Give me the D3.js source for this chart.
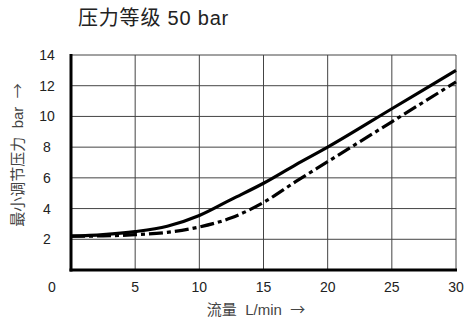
<!DOCTYPE html>
<html>
<head>
<meta charset="utf-8">
<script src="https://cdn.jsdelivr.net/npm/d3@7"></script>
<style>
  html, body { margin: 0; padding: 0; background: #fff; }
  svg text { font-family: "Liberation Sans", "Noto Sans CJK SC", sans-serif; white-space: pre; }
  .arrow { font-family: "Noto Sans CJK SC", sans-serif; }
</style>
</head>
<body>
<svg id="chart" width="467" height="327"></svg>
<script>
// Flow (L/min) vs. minimum set pressure (bar), pressure class 50 bar
const flow = [0, 2.5, 5, 7.5, 10, 12.5, 15, 17.5, 20, 25, 30];
const solidPressure = [2.2, 2.3, 2.5, 2.85, 3.55, 4.6, 5.65, 6.85, 8.0, 10.5, 13.0];
const dashPressure  = [2.2, 2.22, 2.3, 2.45, 2.8, 3.4, 4.4, 5.75, 7.05, 9.65, 12.25];
const xTicks = [5, 10, 15, 20, 25, 30];
const yTicks = [2, 4, 6, 8, 10, 12, 14];
const titleText = "压力等级 50 bar";
const xTitle = "流量  L/min  ";
const yTitle = "最小调节压力  bar  ";
const arrowGlyph = "→";

const svg = d3.select("#chart");
const plotLeft = 71, plotRight = 456, plotTop = 55, plotBottom = 270;

const x = d3.scaleLinear().domain([0, 30]).range([plotLeft, plotRight]);
const y = d3.scaleLinear().domain([0, 14]).range([plotBottom, plotTop]);

// grid
const grid = svg.append("g").attr("stroke", "#444").attr("stroke-width", 1);
grid.selectAll(".vx").data(xTicks).join("line")
  .attr("x1", d => x(d)).attr("x2", d => x(d))
  .attr("y1", plotTop).attr("y2", plotBottom);
grid.selectAll(".hy").data(yTicks).join("line")
  .attr("x1", plotLeft).attr("x2", plotRight)
  .attr("y1", d => y(d)).attr("y2", d => y(d));

// tick labels
svg.append("g").selectAll("text").data(xTicks).join("text")
  .attr("x", d => x(d)).attr("y", 292)
  .attr("text-anchor", "middle")
  .attr("font-size", 14).attr("fill", "#222")
  .text(d => d);
svg.append("g").selectAll("text").data(yTicks).join("text")
  .attr("x", 47).attr("y", d => y(d) + 5)
  .attr("text-anchor", "middle")
  .attr("font-size", 14).attr("fill", "#222")
  .text(d => d);
svg.append("text").attr("x", 52).attr("y", 292)
  .attr("text-anchor", "middle").attr("font-size", 14).attr("fill", "#222")
  .text("0");

// curves
const line = d3.line().x(d => x(d[0])).y(d => y(d[1])).curve(d3.curveMonotoneX);
svg.append("path")
  .datum(flow.map((f, i) => [f, solidPressure[i]]))
  .attr("d", line).attr("fill", "none")
  .attr("stroke", "#000").attr("stroke-width", 3.2);
svg.append("path")
  .datum(flow.map((f, i) => [f, dashPressure[i]]))
  .attr("d", line).attr("fill", "none")
  .attr("stroke", "#000").attr("stroke-width", 3.2)
  .attr("stroke-dasharray", "14,4,4,4");

// main axes
svg.append("line").attr("x1", plotLeft).attr("x2", plotLeft)
  .attr("y1", plotTop - 1).attr("y2", plotBottom + 1.5)
  .attr("stroke", "#000").attr("stroke-width", 3);
svg.append("line").attr("x1", plotLeft - 1.5).attr("x2", plotRight + 1)
  .attr("y1", plotBottom).attr("y2", plotBottom)
  .attr("stroke", "#000").attr("stroke-width", 3);

// titles
svg.append("text").attr("x", 78).attr("y", 25)
  .attr("font-size", 20).attr("letter-spacing", 0.8).attr("fill", "#222")
  .text(titleText);

const xt = svg.append("text").attr("x", 256).attr("y", 315)
  .attr("text-anchor", "middle")
  .attr("font-size", 15).attr("fill", "#444");
xt.append("tspan").text(xTitle);
xt.append("tspan").attr("class", "arrow").text(arrowGlyph);

const yt = svg.append("text")
  .attr("transform", "translate(23,155) rotate(-90)")
  .attr("text-anchor", "middle")
  .attr("font-size", 15).attr("fill", "#444");
yt.append("tspan").text(yTitle);
yt.append("tspan").attr("class", "arrow").text(arrowGlyph);
</script>
</body>
</html>
